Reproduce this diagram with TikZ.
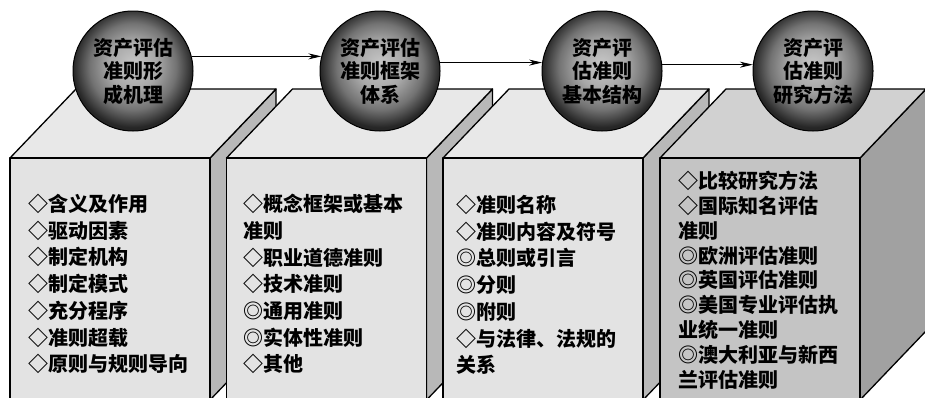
\documentclass[tikz,border=0pt]{standalone}
\usepackage{fontspec}
\newfontfamily\cjk{Noto Sans CJK SC}
\usepackage{xcolor}
\usetikzlibrary{arrows.meta}
\definecolor{avant}{gray}{0.89}
\definecolor{dessus}{gray}{0.91}
\definecolor{cote}{gray}{0.72}
\definecolor{avantf}{gray}{0.77}
\definecolor{dessusf}{gray}{0.82}
\definecolor{cotef}{gray}{0.63}
\pgfdeclareradialshading{sphere}{\pgfpoint{0bp}{3bp}}{color(0bp)=(black!22); color(10bp)=(black!34); color(18bp)=(black!55); color(25bp)=(black!85); color(50bp)=(black!85)}

\begin{document}
\begin{tikzpicture}[x=1pt,y=-1pt,
    face/.style={draw=black,line width=1.3pt,line join=round},
    boule/.style={circle,draw=black,line width=1pt,minimum size=120pt,inner sep=0pt,
        shade,shading=sphere,align=center,
        font=\cjk\bfseries\fontsize{20}{23.5}\selectfont},
    liste/.style={anchor=north west,inner sep=0pt,align=left,
        font=\cjk\bfseries\fontsize{20}{26.7}\selectfont},
    fleche/.style={-{Stealth[length=13pt,width=6pt]},line width=0.8pt}]
\useasboundingbox (0,0) rectangle (925,397);
\clip (0,0) rectangle (925,397);
% blocs clairs
\foreach \x in {10,226.5,443}{
    \filldraw[face,fill=cote] (\x+200,158) -- ++(66,-69) -- ++(0,242) -- ++(-66,69) -- cycle;
    \filldraw[face,fill=dessus] (\x,158) -- ++(66,-69) -- ++(200,0) -- ++(-66,69) -- cycle;
    \filldraw[face,fill=avant] (\x,158) rectangle ++(200,242);
}
% dernier bloc, plus sombre
\filldraw[face,fill=cotef] (860,158) -- ++(66,-69) -- ++(0,242) -- ++(-66,69) -- cycle;
\filldraw[face,fill=dessusf] (660,158) -- ++(66,-69) -- ++(200,0) -- ++(-66,69) -- cycle;
\filldraw[face,fill=avantf] (660,158) rectangle ++(200,242);
% spheres
\node[boule] (s1) at (133,71) {资产评估\\准则形\\成机理};
\node[boule] (s2) at (380,71) {资产评估\\准则框架\\体系};
\node[boule] (s3) at (602,71) {资产评\\估准则\\基本结构};
\node[boule] (s4) at (813,71) {资产评\\估准则\\研究方法};
\draw[fleche] (s1.14) -- (s2.166);
\draw[fleche] (s2.8) -- (s3.172);
\draw[fleche] (s3.6) -- (s4.174);
% textes
\node[liste] (t1) at (28,194) {◇含义及作用\\◇驱动因素\\◇制定机构\\◇制定模式\\◇充分程序\\◇准则超载\\◇原则与规则导向};
\node[liste] (t2) at (243,194) {◇概念框架或基本\\准则\\◇职业道德准则\\◇技术准则\\◎通用准则\\◎实体性准则\\◇其他};
\node[liste] (t3) at (456,195) {◇准则名称\\◇准则内容及符号\\◎总则或引言\\◎分则\\◎附则\\◇与法律、法规的\\关系};
\node[liste,font=\cjk\bfseries\fontsize{20}{24.8}\selectfont] (t4) at (678,171) {◇比较研究方法\\◇国际知名评估\\准则\\◎欧洲评估准则\\◎英国评估准则\\◎美国专业评估执\\业统一准则\\◎澳大利亚与新西\\兰评估准则};
\end{tikzpicture}
\end{document}
